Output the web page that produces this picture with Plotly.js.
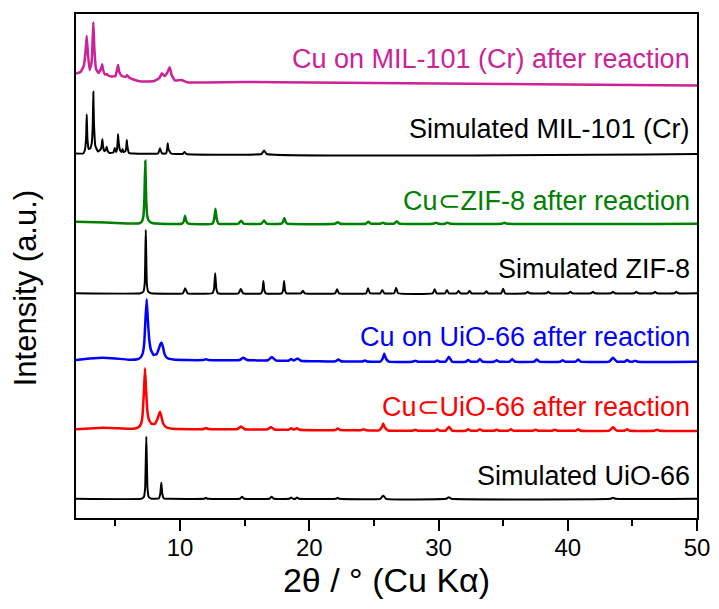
<!DOCTYPE html>
<html>
<head>
<meta charset="utf-8">
<script src="https://cdn.plot.ly/plotly-3.0.1.min.js"></script>
<style>html,body{margin:0;padding:0;background:#fff;}#chart{width:719px;height:609px;}</style>
</head>
<body>
<div id="chart"></div>
<script>
// Series names (top to bottom as drawn)
const seriesNames = [
  "Cu on MIL-101 (Cr) after reaction",
  "Simulated MIL-101 (Cr)",
  "Cu\u2282ZIF-8 after reaction",
  "Simulated ZIF-8",
  "Cu on UiO-66 after reaction",
  "Cu\u2282UiO-66 after reaction",
  "Simulated UiO-66"
];

// [2theta, stacked intensity (a.u.)]
const mil101After = [[1.95,444.5],[2.3,446],[2.55,452],[2.68,465],[2.78,482.3],[2.88,463],[3.0,448],[3.15,455],[3.22,472],[3.29,495.7],[3.37,470],[3.5,449],[3.7,445],[3.9,450],[3.97,453.7],[4.05,448],[4.2,443.5],[4.33,444],[4.45,442.5],[4.7,441.5],[5.0,442],[5.12,448],[5.2,453],[5.3,446],[5.5,442],[5.8,441],[5.9,443],[6.05,440.5],[6.5,438],[7.0,436.5],[7.5,436.5],[8.0,437],[8.4,440],[8.6,444.7],[8.8,442],[9.0,445],[9.2,450.7],[9.35,443],[9.6,437.5],[10.1,438],[10.6,435.5],[12,435.5],[15,436],[20,435.5],[25,435],[30,434.5],[35,434],[40,433.5],[45,433],[50,432.5]];

const mil101Sim = [[1.95,364.5],[2.5,364.5],[2.64,368],[2.73,380],[2.78,403.7],[2.83,380],[2.92,369],[3.05,369.7],[3.18,376],[3.25,395],[3.29,426.3],[3.34,395],[3.45,372],[3.65,366.5],[3.88,369],[3.95,374],[3.99,378.7],[4.04,372],[4.14,367],[4.26,368],[4.33,371.3],[4.4,367],[4.55,365],[4.85,365.5],[4.95,370],[5.05,366],[5.12,369],[5.17,376],[5.2,383.7],[5.25,376],[5.35,368],[5.48,366],[5.55,369],[5.63,366],[5.78,367],[5.85,372],[5.88,378],[5.92,372],[6.05,365],[6.4,364.5],[8.3,364.5],[8.45,369.7],[8.6,364.5],[8.92,364.5],[9.0,369],[9.05,374.7],[9.1,369],[9.3,364.5],[10.2,364],[10.35,366],[10.5,364],[16.3,364],[16.5,367.5],[16.7,364],[50,364]];

const zif8After = [[1.95,296.3],[3.5,295.8],[5,295],[6.3,294.4],[6.85,294.8],[7.05,296.5],[7.17,302],[7.24,320],[7.31,357.3],[7.38,320],[7.46,302],[7.6,297],[7.85,295],[8.5,294.3],[10.15,294.3],[10.3,297],[10.39,302.3],[10.48,297],[10.65,294.3],[12.5,294.3],[12.64,299],[12.74,309.2],[12.84,299],[12.98,294.3],[14.52,294.3],[14.72,297.3],[14.92,294.3],[16.3,294.3],[16.5,297.6],[16.7,294.3],[17.85,294.3],[17.98,296.5],[18.07,300],[18.16,296.5],[18.3,294.3],[22.0,294.3],[22.2,295.8],[22.4,294.3],[24.37,294.3],[24.57,296.3],[24.77,294.3],[25.5,294.3],[25.7,295.3],[25.9,294.3],[26.57,294.3],[26.77,296.8],[26.97,294.3],[29.6,294.3],[29.8,295.3],[30.0,294.3],[30.5,294.3],[30.7,295.3],[30.9,294.3],[34.9,294.3],[35.1,295.3],[35.3,294.3],[50,294.2]];

const zif8Sim = [[1.95,224.7],[6.95,224.7],[7.17,226.5],[7.27,235],[7.35,288],[7.43,235],[7.53,226.5],[7.75,224.7],[10.22,224.7],[10.4,229.7],[10.58,224.7],[12.5,224.7],[12.63,229],[12.72,244.7],[12.81,229],[12.94,224.7],[14.52,224.7],[14.7,229],[14.88,224.7],[16.27,224.7],[16.38,228],[16.45,237],[16.52,228],[16.63,224.7],[17.87,224.7],[17.98,228],[18.05,237],[18.12,228],[18.23,224.7],[19.35,224.7],[19.5,227.2],[19.65,224.7],[22.0,224.7],[22.15,228.7],[22.3,224.7],[24.4,224.7],[24.55,229.7],[24.7,224.7],[25.5,224.7],[25.65,228],[25.8,224.7],[26.57,224.7],[26.72,230.3],[26.87,224.7],[29.55,224.7],[29.7,228.7],[29.85,224.7],[30.5,224.7],[30.65,228],[30.8,224.7],[31.4,224.7],[31.55,227.2],[31.7,224.7],[32.25,224.7],[32.4,227.2],[32.55,224.7],[33.55,224.7],[33.7,226.7],[33.85,224.7],[34.85,224.7],[35.0,229.2],[35.15,224.7],[36.75,224.7],[36.9,226.2],[37.05,224.7],[38.35,224.7],[38.5,226.2],[38.65,224.7],[40.05,224.7],[40.2,226.2],[40.35,224.7],[41.8,224.7],[41.95,226.2],[42.1,224.7],[43.35,224.7],[43.5,226.2],[43.65,224.7],[45.15,224.7],[45.3,226.2],[45.45,224.7],[46.6,224.7],[46.75,226.2],[46.9,224.7],[48.25,224.7],[48.4,226.2],[48.55,224.7],[50,224.7]];

const uio66OnAfter = [[1.95,158],[3,159.5],[4,160.3],[5,159.5],[6,158.3],[6.7,158.8],[6.95,160.5],[7.12,165],[7.23,175],[7.33,200],[7.42,218.7],[7.51,198],[7.62,178],[7.75,168],[7.95,163],[8.2,164],[8.38,170],[8.48,174],[8.57,175.3],[8.66,172],[8.8,164],[9.0,160],[9.5,158.5],[10.5,158],[11.8,158],[12.0,158.8],[12.2,158],[14.6,158],[14.9,160.3],[15.2,158],[16.8,157.8],[17.1,161],[17.4,157.6],[18.4,157.3],[18.6,159],[18.8,157.4],[19.1,159.6],[19.35,157.2],[22.05,156.8],[22.25,158.5],[22.45,156.8],[24.1,156.5],[24.3,157.5],[24.5,156.5],[25.5,156.4],[25.68,159.5],[25.8,164.6],[25.93,159.5],[26.15,156.3],[28.0,156.3],[28.2,157.3],[28.4,156.3],[29.7,156.3],[29.9,157.6],[30.1,156.3],[30.55,156.3],[30.8,161.3],[31.05,156.3],[32.1,156.3],[32.3,158],[32.5,156.3],[33.0,156.3],[33.2,159],[33.4,156.3],[34.3,156.3],[34.5,157.8],[34.7,156.3],[35.5,156.3],[35.7,159],[35.9,156.3],[37.4,156.3],[37.6,158.6],[37.8,156.3],[39.4,156.3],[39.6,157.8],[39.8,156.3],[40.6,156.3],[40.8,158.6],[41.0,156.3],[43.2,156.3],[43.5,160.3],[43.8,156.3],[44.4,156.3],[44.6,158],[44.8,156.3],[45.0,156.3],[45.2,157.3],[45.4,156.3],[50,156.3]];

const uio66InAfter = [[1.95,88.8],[3,89.6],[4,90.2],[5,89.8],[6,89.2],[6.6,89.8],[6.85,91.5],[7.0,95],[7.1,103],[7.2,125],[7.29,149.7],[7.38,126],[7.48,106],[7.6,98],[7.8,94],[8.05,94],[8.25,99],[8.35,103],[8.45,106.3],[8.55,102],[8.68,95],[8.9,91],[9.3,89.5],[10,89],[11.8,89],[12.0,90],[12.2,89],[14.45,89],[14.72,91.5],[15.0,88.8],[16.75,88.6],[17.04,91],[17.3,88.5],[18.4,88.3],[18.59,89.8],[18.8,88.4],[19.03,89.8],[19.25,88.3],[22.0,88],[22.2,89.5],[22.4,88],[24.0,87.8],[24.2,88.8],[24.4,87.8],[25.4,87.6],[25.6,90.5],[25.72,94.5],[25.85,90.5],[26.1,87.5],[28.0,87.3],[28.2,88.3],[28.4,87.3],[29.7,87.3],[29.9,88.8],[30.1,87.3],[30.55,87.3],[30.8,91.3],[31.05,87.3],[32.1,87.3],[32.3,88.8],[32.5,87.3],[33.0,87.3],[33.2,88.8],[33.4,87.3],[34.3,87.3],[34.5,88.3],[34.7,87.3],[35.4,87.3],[35.6,88.8],[35.8,87.3],[37.3,87.3],[37.5,88.3],[37.7,87.3],[38.8,87.3],[39.0,88.3],[39.2,87.3],[40.6,87.3],[40.8,88.8],[41.0,87.3],[43.2,87.3],[43.5,90.8],[43.8,87.3],[44.4,87.3],[44.6,88.8],[44.8,87.3],[46.7,87.3],[46.9,88.3],[47.1,87.3],[50,87.1]];

const uio66Sim = [[1.95,19.2],[7.0,19.2],[7.2,21],[7.3,30],[7.39,81.3],[7.48,30],[7.58,21],[7.8,19.2],[8.35,19.5],[8.47,24],[8.55,35.3],[8.63,24],[8.75,19.5],[9.2,19.2],[11.85,19.2],[12.0,20.2],[12.15,19.2],[14.62,19.2],[14.8,21.2],[14.98,19.2],[16.9,19.2],[17.08,21.2],[17.26,19.2],[18.45,19.2],[18.6,20.4],[18.75,19.2],[18.92,19.2],[19.05,20.6],[19.2,19.2],[22.05,19.2],[22.2,20.2],[22.35,19.2],[25.5,19.2],[25.72,22.5],[25.94,19.2],[30.6,19.2],[30.8,20.8],[31.0,19.2],[43.3,19.2],[43.5,20.2],[43.7,19.2],[50,19.2]];

// label heights (a.u.) for the series names
const labelY = [459, 389, 317, 249, 181, 111, 42];

const xTickVals = [10, 20, 30, 40, 50];
const xTickText = ["10", "20", "30", "40", "50"];
const xTitle = "2\u03b8 / \u00b0 (Cu K\u03b1)";
const yTitle = "Intensity (a.u.)";

const seriesData = [mil101After, mil101Sim, zif8After, zif8Sim, uio66OnAfter, uio66InAfter, uio66Sim];
const colors = ["#CC2299", "#000000", "#008000", "#000000", "#0000FF", "#FF0000", "#000000"];
const widths = [2.5, 2, 2.5, 2, 2.5, 2.5, 2];

const FONT = "Arial, 'Liberation Sans', Helvetica, sans-serif";

const traces = seriesData.map((d, i) => ({
  type: "scatter",
  mode: "lines",
  name: seriesNames[i],
  x: d.map(p => p[0]),
  y: d.map(p => p[1]),
  line: {color: colors[i], width: widths[i], shape: "spline", smoothing: 0.3},
  hoverinfo: "skip"
}));

const annotations = seriesNames.map((t, i) => ({
  text: t,
  xref: "paper", yref: "y",
  x: 0.992, y: labelY[i],
  xanchor: "right", yanchor: "middle",
  showarrow: false,
  font: {family: FONT, size: 27, color: colors[i]}
}));

// y-axis title placed as rotated text (sits slightly below the plot's centre in the reference)
annotations.push({
  text: yTitle,
  xref: "paper", yref: "paper",
  x: -0.082, y: 0.456,
  xanchor: "center", yanchor: "middle",
  textangle: -90,
  showarrow: false,
  font: {family: FONT, size: 31, color: "#000"}
});

const layout = {
  width: 719, height: 609,
  margin: {l: 76, r: 22, t: 14, b: 91},
  paper_bgcolor: "#ffffff",
  plot_bgcolor: "#ffffff",
  showlegend: false,
  font: {family: FONT, color: "#000000"},
  xaxis: {
    range: [1.95, 50],
    tickvals: xTickVals,
    ticktext: xTickText,
    ticks: "outside", ticklen: 11, tickwidth: 2, tickcolor: "#000",
    ticklabelstandoff: -4,
    minor: {dtick: 5, tick0: 0, ticks: "outside", ticklen: 6, tickwidth: 2, tickcolor: "#000", showgrid: false},
    showline: true, linewidth: 2, linecolor: "#000", mirror: true,
    showgrid: false, zeroline: false,
    tickfont: {family: FONT, size: 24, color: "#000"},
    title: {text: xTitle, font: {family: FONT, size: 34, color: "#000"}, standoff: 8}
  },
  yaxis: {
    range: [0, 504],
    showticklabels: false, ticks: "",
    showline: true, linewidth: 2, linecolor: "#000", mirror: true,
    showgrid: false, zeroline: false
  },
  annotations: annotations
};

Plotly.newPlot("chart", traces, layout, {staticPlot: true, displayModeBar: false});
</script>
</body>
</html>
